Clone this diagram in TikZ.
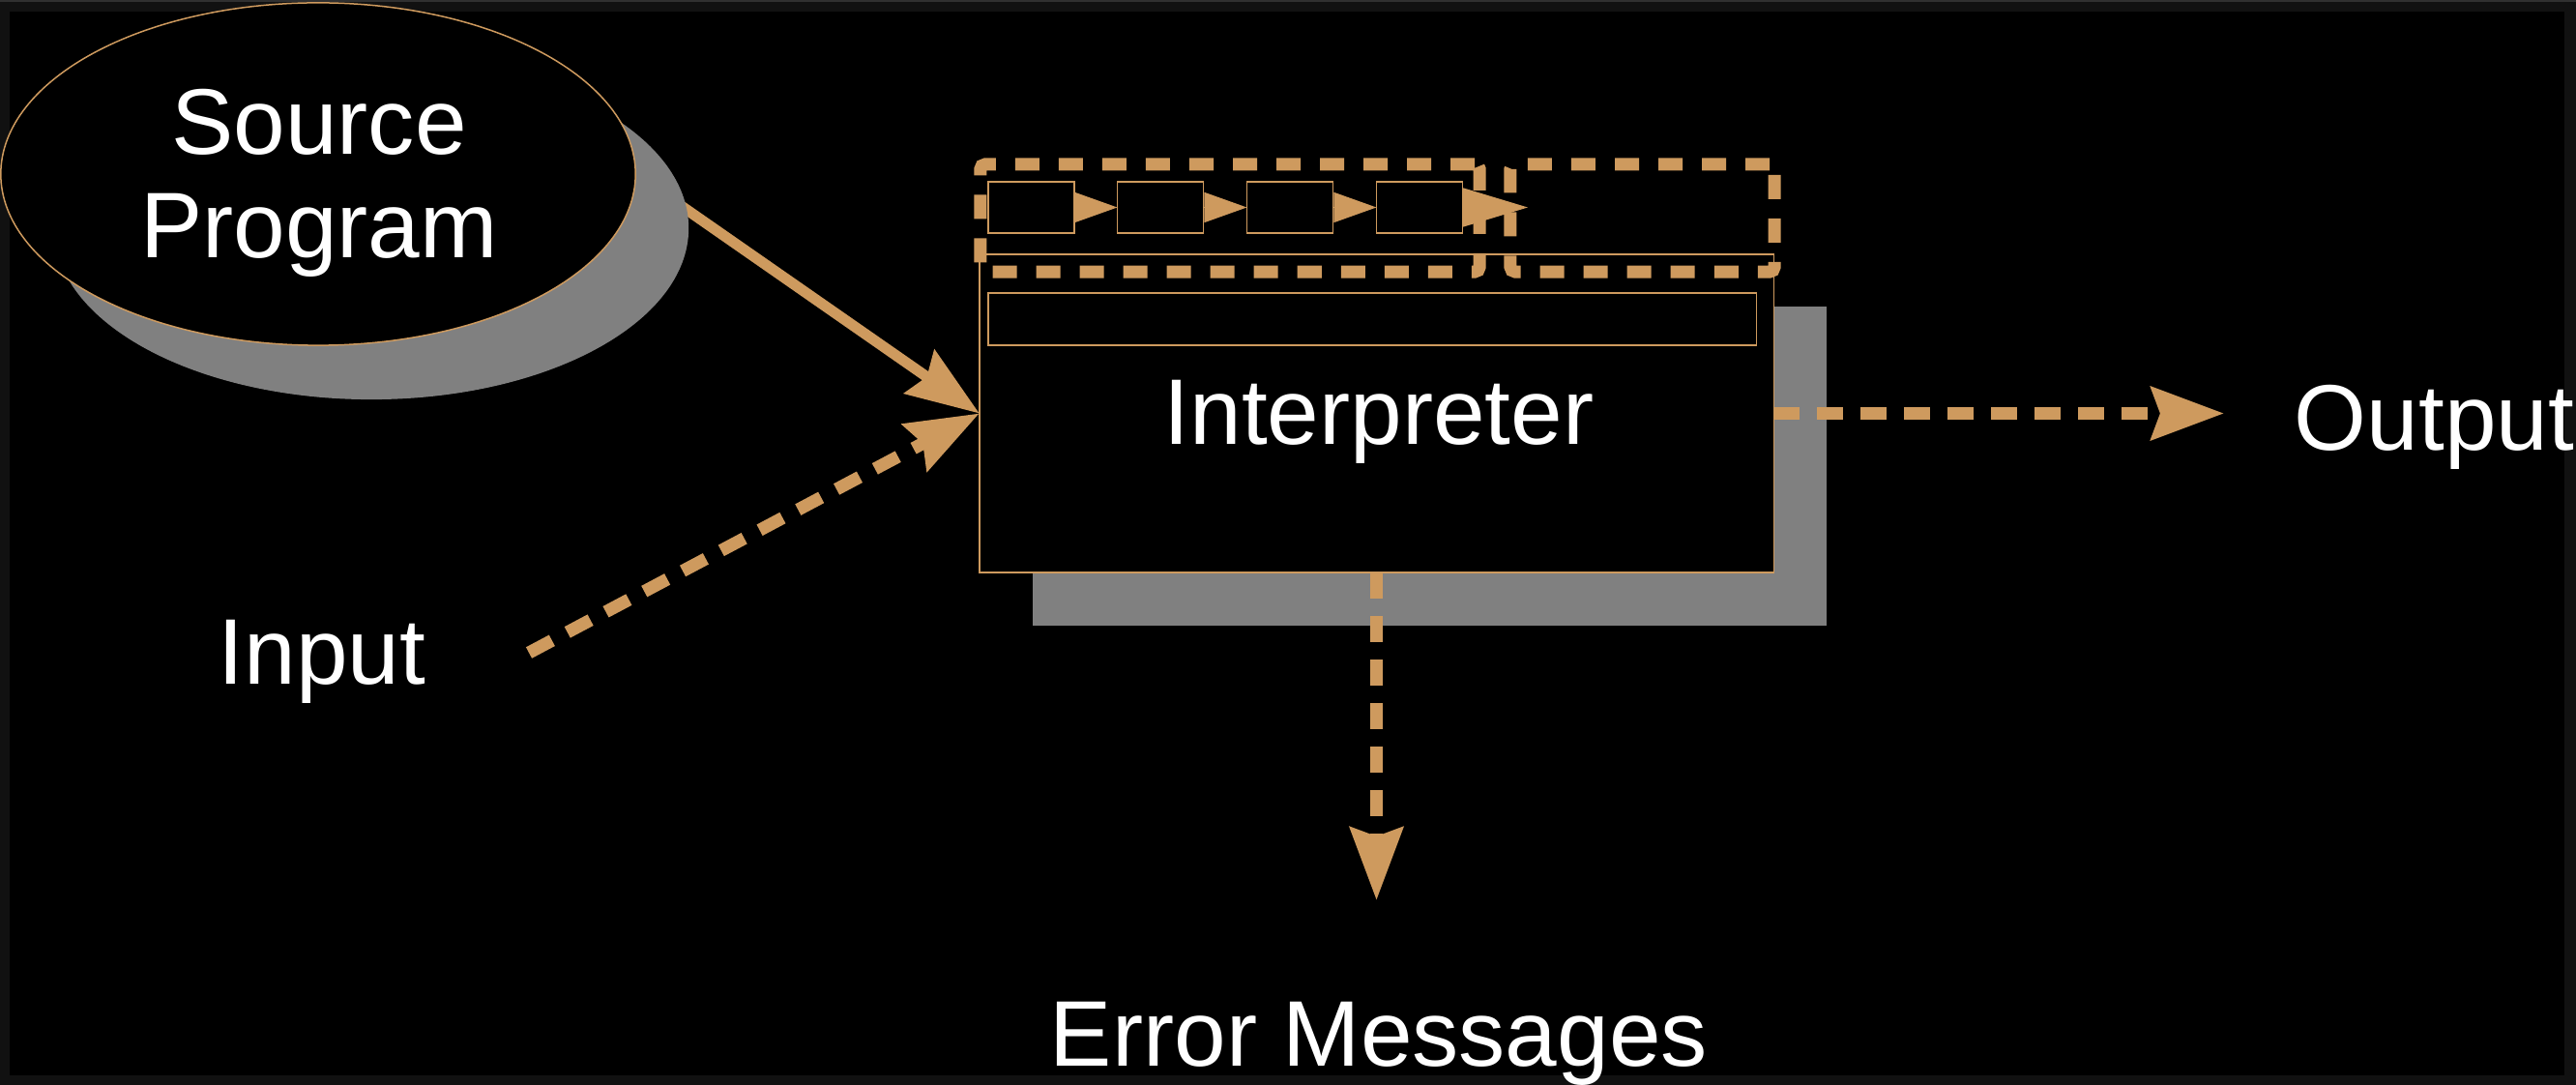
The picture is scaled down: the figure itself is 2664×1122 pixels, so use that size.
\documentclass[tikz,border=0pt]{standalone}
\usepackage{fontspec}
\setmainfont{Liberation Sans}
\usetikzlibrary{arrows.meta,shapes.geometric}
\definecolor{acc}{RGB}{206,154,94}
\definecolor{shadowgray}{RGB}{128,128,128}
\definecolor{framec}{RGB}{17,17,17}
\definecolor{framet}{RGB}{48,48,48}
\pgfdeclarelayer{back}
\pgfsetlayers{back,main}
\begin{document}
\begin{tikzpicture}[x=0.01cm,y=-0.01cm,
  lbl/.style={text=white, font=\fontsize{27.4pt}{31pt}\selectfont, inner sep=0, anchor=base},
  thinbox/.style={rectangle, draw=acc, line width=0.015cm, fill=black, inner sep=0, outer sep=0},
  bighead/.style={-{Stealth[length=0.75cm,width=0.54cm,inset=0.09cm]}, draw=acc},
  flow/.style={bighead, line width=0.11cm},
  dflow/.style={bighead, line width=0.13cm, dash pattern=on 0.27cm off 0.18cm},
  smallarr/.style={-{Triangle[length=0.44cm,width=0.31cm]}, draw=acc, line width=0.015cm},
  grp/.style={rectangle, draw=acc, line width=0.13cm, dash pattern=on 0.25cm off 0.2cm, rounded corners=0.05cm, inner sep=0, outer sep=0},
  cell/.style={thinbox, minimum width=0.89cm, minimum height=0.53cm}
]
\useasboundingbox (0,0) rectangle (2664,1122);
\begin{pgfonlayer}{back}
  \fill[framec] (0,0) rectangle (2664,1122);
  \fill[framet] (0,0) rectangle (2664,2);
  \fill[black] (10,12) rectangle (2652,1112);
\end{pgfonlayer}

% source program
\fill[shadowgray] (384,236) ellipse [x radius=3.28cm, y radius=1.77cm];
\node[ellipse, draw=acc, line width=0.015cm, fill=black, minimum width=6.56cm, minimum height=3.54cm, inner sep=0, outer sep=0] (src) at (329,180) {};
\node[lbl] (srcA) at (330,160) {Source};
\node[lbl] (srcB) at (330,267) {Program};

% interpreter
\fill[shadowgray] (1068,317) rectangle (1889,647);
\node[thinbox, minimum width=8.21cm, minimum height=3.29cm] (interp) at (1423.5,427.5) {};
\node[thinbox, minimum width=7.94cm, minimum height=0.54cm] (bar) at (1419,330) {};
\node[lbl] (interpT) at (1426,460) {Interpreter};

% pipeline cells
\node[cell] (b1) at (1066.5,214.5) {};
\node[cell] (b2) at (1200,214.5) {};
\node[cell] (b3) at (1334,214.5) {};
\node[cell] (b4) at (1468,214.5) {};
\draw[smallarr] (b1.east) -- (b2.west);
\draw[smallarr] (b2.east) -- (b3.west);
\draw[smallarr] (b3.east) -- (b4.west);
\coordinate (b4t) at (1580,214.5);
\draw[-{Triangle[length=0.67cm,width=0.40cm]}, draw=acc, line width=0.015cm] (b4.east) -- (b4t);
\node[grp, minimum width=5.16cm, minimum height=1.11cm] (grpA) at (1272,225.5) {};
\node[grp, minimum width=2.73cm, minimum height=1.11cm] (grpB) at (1698.5,225.5) {};

% source -> interpreter (under the shadow)
\begin{pgfonlayer}{back}
  \draw[flow] (src.east) -- (interp.west);
\end{pgfonlayer}

% input
\node[lbl] (inT) at (333,707) {Input};
\coordinate (inS) at (547,675);
\draw[dflow] (inS) -- (interp.west);

% output
\coordinate (outTip) at (2300,427.5);
\draw[dflow] (interp.east) -- (outTip);
\node[lbl, anchor=base west] (outT) at (2372,466) {Output};

% errors
\coordinate (errTip) at (1423.5,931);
\draw[dflow] (interp.south) -- (errTip);
\node[lbl] (errT) at (1426,1102) {Error Messages};
\end{tikzpicture}
\end{document}
